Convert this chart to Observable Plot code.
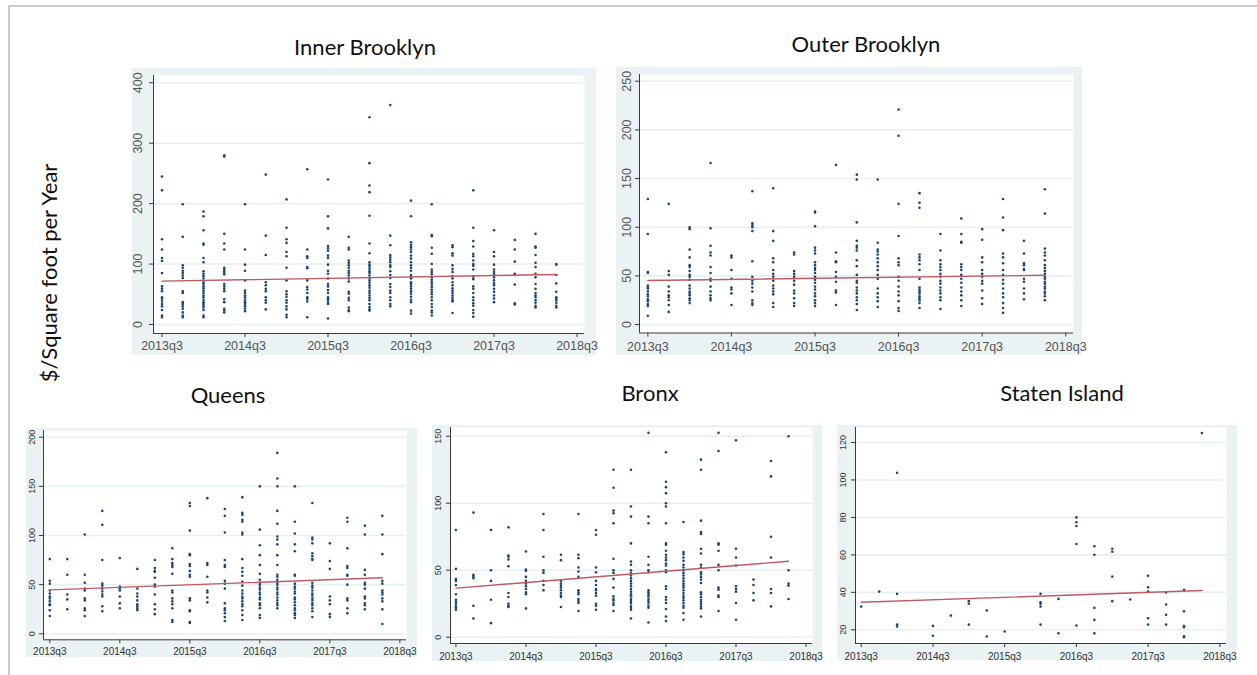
<!DOCTYPE html>
<html><head><meta charset="utf-8">
<script src="https://cdn.jsdelivr.net/npm/d3@7"></script>
<script src="https://cdn.jsdelivr.net/npm/@observablehq/plot@0.6"></script>
<style>
html,body{margin:0;padding:0;background:#fff;overflow:hidden;}
#root{position:relative;width:1257px;height:675px;overflow:hidden;background:#fff;}
.frame{position:absolute;left:8px;top:5px;width:1300px;height:700px;border-top:2px solid #c9c9c9;border-left:2px solid #c9c9c9;}
.title{position:absolute;font-family:Lato,"Open Sans",sans-serif;font-size:22px;color:#111;white-space:nowrap;transform:translate(-50%,-50%);line-height:1;}
.ylab{position:absolute;font-family:Lato,"Open Sans",sans-serif;font-size:22px;color:#111;white-space:nowrap;line-height:1;transform:translate(-50%,-50%) rotate(-90deg);}
.panel{position:absolute;}
.panel svg{display:block;}
</style></head>
<body><div id="root"><div class="frame"></div></div>
<script>
// ---------- data (quarter index 0 = 2013q3 ... 19 = 2018q2) ----------
const quarters = ["2013q3","2013q4","2014q1","2014q2","2014q3","2014q4","2015q1","2015q2","2015q3","2015q4",
  "2016q1","2016q2","2016q3","2016q4","2017q1","2017q2","2017q3","2017q4","2018q1","2018q2"];
const xTickLabels = ["2013q3","2014q3","2015q3","2016q3","2017q3","2018q3"];

const innerBrooklyn = [
  [245,222,141,124,110,105,85,63,59,55,45,42,38,34,30,24,15,12],
  [199,145,98,94,89,85,81,77,55,52,37,34,30,26,20,15,12],
  [187,179,156,134,132,110,103,88,84,80,76,70,67,63,60,56,52,48,45,41,37,34,31,28,24,15,12],
  [280,278,150,134,124,94,91,88,85,83,67,63,59,55,42,37,26,23,20],
  [199,124,99,89,73,56,52,48,45,41,37,34,30,26,22],
  [248,147,115,70,65,59,55,45,40,36,25],
  [207,160,141,135,120,113,94,73,55,50,46,40,36,30,25,16,12],
  [257,124,113,110,95,93,73,62,58,52,45,42,38,12],
  [240,179,159,130,126,122,114,110,99,89,84,76,67,63,57,52,45,42,40,36,34,10],
  [145,127,124,106,102,98,94,89,85,81,76,71,54,51,44,40,28,24,22],
  [343,267,230,219,180,134,118,103,99,96,92,88,85,81,77,73,69,65,61,56,52,48,44,40,34,29,25,23],
  [363,147,131,115,111,107,103,98,95,88,82,77,67,62,56,52,45,40,34,30],
  [205,179,136,132,128,124,120,114,109,103,98,94,89,82,78,76,70,67,63,59,55,51,46,41,37,23,18],
  [199,148,146,127,117,100,91,87,83,78,74,70,66,62,58,54,50,45,40,34,29,23,20,15],
  [131,128,118,114,98,92,87,80,76,70,65,60,56,52,48,44,40,38,19],
  [222,160,138,129,117,113,106,100,97,91,79,75,63,59,52,45,40,35,31,24,19,13],
  [156,120,113,99,91,87,83,78,73,68,65,59,54,48,43,37],
  [140,124,104,84,82,66,35,33],
  [150,129,127,115,102,95,84,78,67,59,52,48,45,40,36,31,28],
  [100,99,82,68,54,45,43,40,36,31,28]
];
const outerBrooklyn = [
  [129,93,54,53,40,38,37,34,31,29,26,24,21,19,9],
  [124,55,51,39,34,30,28,25,20,13],
  [100,98,77,69,61,59,55,51,49,46,40,37,34,32,30,27,25,22],
  [166,99,81,74,71,59,53,47,45,39,34,30,27,25],
  [71,69,56,47,38,36,32,20],
  [137,104,102,100,96,65,49,45,42,38,34,25,22,20],
  [140,96,86,68,64,56,52,49,45,40,37,34,31,22,18],
  [74,72,55,52,49,45,41,35,32,27,22,19],
  [116,115,101,79,76,73,64,61,58,56,53,49,46,43,39,36,32,29,25,22,19],
  [164,74,65,64,54,49,44,35,33,20],
  [154,149,105,86,81,79,76,66,60,51,45,43,38,35,32,28,25,21,15],
  [149,84,77,75,72,68,64,60,56,51,47,37,32,28,24,18],
  [221,194,124,91,68,64,61,49,45,39,34,30,24,17,14],
  [135,125,120,72,69,66,62,56,47,38,36,34,32,29,27,25,22,17],
  [93,76,66,62,59,56,52,49,45,42,38,35,32,28,25,16],
  [109,93,85,84,62,59,56,51,47,43,38,34,30,25,19],
  [98,87,69,64,56,52,49,45,42,35,27,21],
  [129,110,97,73,69,63,56,51,46,42,37,32,28,22,17,12],
  [86,73,63,61,57,56,47,44,37,32,26],
  [139,114,78,74,71,66,61,58,55,52,49,47,44,42,39,37,34,32,29,25]
];
const queens = [
  [76,54,51,44,41,38,36,33,30,29,24,18],
  [76,60,40,35,25],
  [101,60,52,46,44,36,34,26,24,18],
  [125,111,75,51,49,46,43,40,38,28,23],
  [77,48,46,44,38,31,26],
  [66,46,41,38,34,30,28,26,24],
  [75,67,64,63,57,50,48,40,30,25,20],
  [87,76,72,70,68,61,44,42,36,33,30,26,14,12],
  [133,130,105,81,80,71,69,64,60,58,36,34,24,23,12,11],
  [138,72,70,58,44,42,37,32],
  [127,120,103,75,70,68,54,51,46,31,26,24,21,17,13],
  [139,123,121,116,114,103,101,76,67,63,59,53,49,44,41,38,36,33,30,28,24,19,14],
  [150,106,90,80,70,61,55,52,50,47,45,42,40,37,35,31,29,26,19,16],
  [184,158,150,125,112,99,96,91,80,70,60,58,55,52,50,47,45,42,40,37,34,31,29,26],
  [150,114,102,91,84,60,59,51,48,46,43,41,37,35,32,29,26,24,21,19,16],
  [133,98,96,92,82,79,76,75,52,49,47,44,41,39,36,34,31,29,26,23,17],
  [92,74,66,38,34,30,20,17],
  [118,114,87,69,67,60,59,50,36,34,26,21],
  [110,101,65,60,52,50,46,38,36,31,29,25],
  [120,101,81,54,51,44,42,40,36,33,25,10]
];
const bronx = [
  [80,51,43.5,42,39,32,28,26.5,25,23,22,20.5],
  [93,46.5,45.5,44,23.5,14],
  [80,50,42,28,10.5],
  [82,61,60,58,53,33,30,25,23.5,22.5],
  [64,50.5,49.5,45,42,40,38,36,33.5,32,21.5],
  [92,80,60,50,48,42,39,35],
  [61.5,57.5,42,40,38.5,37,35,33,31,30,22.5],
  [92,61.5,59,52,49,45,35,33.5,32,28.5,27,25.5,19.5],
  [80,76.5,52,48.5,42,39,36,35,33,31,25,23.5,20.5],
  [125,111.5,94.5,92.5,85,58.5,50,48,43.5,37,30.5,28.5,27.5,25.5,24,19.5],
  [125,97.5,90,70,56.5,54,50,48,46,44,42,40,38,36,34,32,30.5,28.5,27,25.5,23.5,22,20.5,14],
  [152.5,90,85,60,54,50,48.5,35,33.5,32,30.5,28.5,27,25.5,23.5,22,11],
  [138,116,112,107.5,100,97.5,85,70,69,64.5,61.5,59.5,57.5,55,53.5,50,48.5,38,36,30,28,25.5,21,15.5,12],
  [86,63.5,62,59.5,57,54,52,50,48,46,44,42,40,38.5,37,35,33,31,29.5,27.5,25.5,23.5,22,18,13],
  [132.5,125,87,78.5,77,66,62.5,54,52,48.5,47,45,43,40.5,33.5,32,30,28,26.5,25,23,21.5,15.5],
  [152.5,139,70,69,64.5,54,50,37,35.5,31,30,19.5],
  [147,66,59.5,53.5,38,36,34,25.5,13],
  [43,39,33,27.5],
  [131.5,120,75,59.5,36,33,23],
  [150,50,40,38.5,28.5]
];
const statenIsland = [
  [32.4],[40.4],[103.8,39.2,22.8,21.8],[],[22.1,16.8],[27.6],[35.3,33.9,22.8],[30.3,16.4],[19.1],[],
  [39.2,34.7,33.9,32.4,22.8],[36.5,18.2],[80,77.4,75.4,65.8,22.3],[64.6,60.1,31.7,25.3,18.2],
  [63.3,61.7,48.4,35.3],[36.2],[48.8,42.7,40.4,26.2,22.8],[39.9,33.5,28,22.8],
  [41.3,29.9,22,21.4,16.6,16.1],[125]
];
// fitted line values at first (2013q3) and last (2018q2) quarter
const innerFit = [71.7, 82.8];
const outerFit = [45.2, 50.6];
const queensFit = [44.7, 57.0];
const bronxFit = [36.6, 56.7];
const statenFit = [34.7, 41.0];

const innerTicks = [0,100,200,300,400];
const outerTicks = [0,50,100,150,200,250];
const queensTicks = [0,50,100,150,200];
const bronxTicks = [0,50,100,150];
const statenTicks = [20,40,60,80,100,120];

// ---------- drawing ----------
const xTicks = xTickLabels.map((_, i) => i * 4);
const root = document.getElementById("root");

function addTitle(text, cx, cy) {
  const d = document.createElement("div");
  d.className = "title"; d.textContent = text;
  d.style.left = cx + "px"; d.style.top = cy + "px";
  root.appendChild(d);
}

function panel(cfg) {
  const pts = cfg.data.flatMap((vals, q) => vals.map(v => ({q, v})));
  const fit = [{q: 0, v: cfg.fit[0]}, {q: quarters.length - 1, v: cfg.fit[1]}];
  const axisColor = "#3a3a3a";
  const chart = Plot.plot({
    width: cfg.w, height: cfg.h,
    marginLeft: cfg.ml, marginRight: cfg.mr, marginTop: cfg.mt, marginBottom: cfg.mb,
    style: {background: "#eaf2f3", fontFamily: "'Liberation Sans', Arial, sans-serif", overflow: "visible"},
    x: {type: "linear", domain: cfg.xd, label: null},
    y: {type: "linear", domain: cfg.yd, label: null},
    marks: [
      Plot.frame({fill: "white", stroke: "none"}),
      Plot.ruleY(cfg.yTicks, {stroke: "#e6eff1", strokeWidth: 1.6}),
      Plot.axisX({ticks: xTicks, tickSize: 4, tickFormat: () => "", stroke: axisColor, label: null}),
      Plot.axisY({ticks: cfg.yTicks, tickSize: 4, tickFormat: () => "", stroke: axisColor, label: null}),
      Plot.ruleX([cfg.xd[0]], {stroke: axisColor, strokeWidth: 1}),
      Plot.ruleY([cfg.yd[0]], {stroke: axisColor, strokeWidth: 1}),
      Plot.text(xTicks, {x: d => d, frameAnchor: "bottom", dy: cfg.xdy, text: d => xTickLabels[d / 4],
        fontSize: cfg.xfs, fill: cfg.tc, lineAnchor: "middle", textAnchor: "middle"}),
      Plot.text(cfg.yTicks, {y: d => d, frameAnchor: "left", dx: cfg.ydx, text: d => String(d), rotate: -90,
        fontSize: cfg.yfs, fill: cfg.tc, lineAnchor: "middle", textAnchor: "middle"}),
      Plot.dot(pts, {x: "q", y: "v", r: 1.3, fill: "#1a476f", stroke: "none"}),
      Plot.line(fit, {x: "q", y: "v", stroke: "#bf5a5f", strokeWidth: 1.4})
    ]
  });
  const wrap = document.createElement("div");
  wrap.className = "panel";
  wrap.style.left = cfg.left + "px"; wrap.style.top = cfg.top + "px";
  wrap.appendChild(chart);
  root.appendChild(wrap);
  addTitle(cfg.title, cfg.tx, cfg.ty);
}

panel({title: "Inner Brooklyn", tx: 365, ty: 47, data: innerBrooklyn, fit: innerFit, yTicks: innerTicks,
  left: 132, top: 68, w: 464, h: 287, ml: 21, mr: 12, mt: 7, mb: 22,
  xd: [-0.41, 20.36], yd: [-14.9, 412], xdy: 12.7, ydx: -16, xfs: 12.5, yfs: 12.5, tc: "#555"});
panel({title: "Outer Brooklyn", tx: 866, ty: 44, data: outerBrooklyn, fit: outerFit, yTicks: outerTicks,
  left: 616, top: 67, w: 466, h: 288, ml: 23, mr: 9, mt: 7, mb: 22.5,
  xd: [-0.40, 20.37], yd: [-8.7, 256.9], xdy: 13.5, ydx: -12.6, xfs: 12.5, yfs: 12.5, tc: "#555"});
panel({title: "Queens", tx: 228, ty: 395, data: queens, fit: queensFit, yTicks: queensTicks,
  left: 26, top: 428, w: 391, h: 229, ml: 17, mr: 11, mt: 2, mb: 17.7,
  xd: [-0.36, 20.38], yd: [-6.1, 206.8], xdy: 11.7, ydx: -11.3, xfs: 10, yfs: 9, tc: "#333"});
panel({title: "Bronx", tx: 650, ty: 393, data: bronx, fit: bronxFit, yTicks: bronxTicks,
  left: 432, top: 425, w: 390, h: 236, ml: 18, mr: 10, mt: 2, mb: 18,
  xd: [-0.31, 20.37], yd: [-4.7, 156.5], xdy: 13, ydx: -12.6, xfs: 10, yfs: 9, tc: "#333"});
panel({title: "Staten Island", tx: 1062, ty: 393, data: statenIsland, fit: statenFit, yTicks: statenTicks,
  left: 837, top: 425, w: 400, h: 235, ml: 18, mr: 11, mt: 2, mb: 17,
  xd: [-0.32, 20.37], yd: [12.7, 128], xdy: 13, ydx: -12, xfs: 10, yfs: 9, tc: "#333"});

const yl = document.createElement("div");
yl.className = "ylab"; yl.textContent = "$/Square foot per Year";
yl.style.left = "49px"; yl.style.top = "273px";
root.appendChild(yl);
</script>
</body></html>
